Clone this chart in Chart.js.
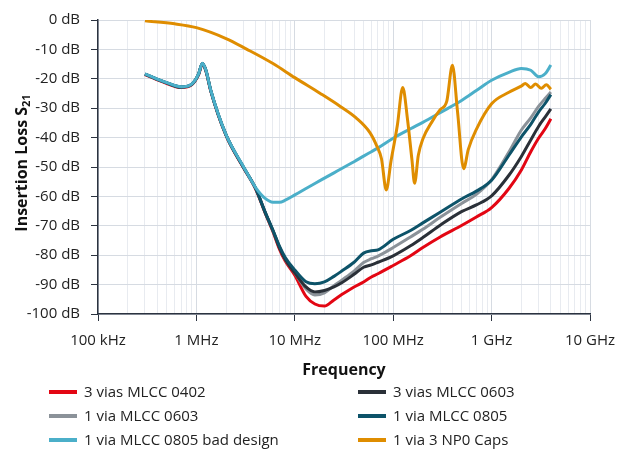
<!DOCTYPE html>
<html>
<head>
<meta charset="utf-8">
<script src="https://cdn.jsdelivr.net/npm/chart.js@4.4.1/dist/chart.umd.min.js"></script>
<style>
html, body { margin: 0; padding: 0; background: #fff; }
canvas { display: block; }
</style>
</head>
<body>
<canvas id="chart" width="629" height="452"></canvas>
<script>
// frequencies (Hz) shared by the MLCC measurements
const freqMlcc = [3e5, 5e5, 7e5, 9e5, 1.05e6, 1.15e6, 1.25e6, 1.4e6, 2e6, 3e6, 4e6, 5e6, 6e6, 7e6, 8e6,
    1e7, 1.3e7, 1.6e7, 2e7, 2.5e7, 3e7, 4e7, 5e7, 6e7, 7e7, 1e8, 1.5e8, 2e8, 3e8, 5e8, 7e8,
    1e9, 1.5e9, 2e9, 2.5e9, 3e9, 3.5e9, 4e9];

const red0402 = [-18.6, -21.6, -23.0, -22.0, -18.7, -15.0, -17.4, -24.2, -39.3, -50.2, -57.5, -65.6, -72.0, -78.0, -82.0,
    -86.8, -94.0, -96.6, -97.3, -95.2, -93.4, -90.8, -89.1, -87.4, -86.3, -83.5, -80.2, -77.4, -73.8, -69.8, -67.0,
    -63.8, -57.3, -51.1, -44.8, -40.2, -37.0, -33.6];
const dark0603 = [-18.4, -21.4, -22.8, -21.8, -18.5, -14.8, -17.2, -24.0, -39.1, -50.0, -57.3, -65.5, -71.7, -77.5, -81.5,
    -86.0, -90.8, -92.5, -92.0, -90.8, -89.4, -86.5, -84.1, -83.3, -82.4, -80.2, -76.8, -74.0, -69.8, -65.1, -62.9,
    -59.8, -52.8, -46.5, -40.8, -36.2, -33.0, -30.2];
const gray0603 = [-18.4, -21.4, -22.8, -21.8, -18.5, -14.8, -17.2, -24.0, -39.1, -50.0, -57.3, -65.5, -71.7, -77.2, -81.5,
    -86.0, -91.5, -93.5, -92.8, -90.4, -88.5, -85.4, -82.5, -81.2, -80.3, -77.4, -73.8, -71.2, -67.1, -62.3, -59.3,
    -54.3, -44.9, -37.5, -33.3, -29.4, -26.7, -24.5];
const teal0805 = [-18.4, -21.4, -22.8, -21.8, -18.5, -14.8, -17.2, -24.0, -39.1, -50.0, -57.3, -65.3, -71.5, -77.0, -80.8,
    -85.0, -89.0, -89.7, -89.1, -87.2, -85.4, -82.4, -79.3, -78.5, -78.2, -74.6, -71.6, -69.0, -65.4, -60.8, -58.2,
    -54.5, -46.0, -39.8, -35.5, -31.3, -28.4, -25.4];
const blueBad = [-18.3, -21.3, -22.7, -21.7, -18.4, -14.7, -17.1, -23.9, -39.0, -49.8, -57.0, -60.7, -62.0, -62.0, -61.3,
    -59.5, -57.3, -55.6, -53.8, -52.0, -50.5, -48.2, -46.3, -44.8, -43.5, -40.2, -37.0, -34.8, -31.5, -27.3, -24.0,
    -20.5, -17.8, -16.5, -17.1, -19.3, -18.3, -15.3];

// frequencies (Hz) for the NP0 measurement
const freqNp0 = [3e5, 6e5, 1e6, 2e6, 3.2e6, 6e6, 1e7, 1.8e7, 2.9e7, 4.2e7, 5.8e7, 6.8e7, 7.6e7, 8.5e7,
    9.5e7, 1.1e8, 1.25e8, 1.4e8, 1.55e8, 1.65e8, 1.8e8, 2e8, 2.5e8, 3e8, 3.5e8, 4e8, 4.5e8, 5.2e8, 5.8e8, 7e8,
    1e9, 1.5e9, 2e9, 2.2e9, 2.5e9, 2.8e9, 3.2e9, 3.6e9, 4e9];
const orangeNp0 = [-0.3, -1.3, -2.6, -6.3, -9.8, -14.8, -19.6, -24.9, -29.4, -33.3, -38.3, -42.8, -47.2, -57.8,
    -48.0, -36.0, -23.0, -34.0, -47.5, -55.5, -46.0, -40.5, -34.4, -30.5, -27.7, -15.4, -31.0, -50.6, -44.0, -37.2,
    -28.5, -24.6, -22.5, -21.6, -23.0, -21.8, -23.2, -22.0, -23.6];

const seriesLabels = ['3 vias MLCC 0402', '3 vias MLCC 0603', '1 via MLCC 0603', '1 via MLCC 0805',
    '1 via MLCC 0805 bad design', '1 via 3 NP0 Caps'];

const xTickValues = [1e5, 1e6, 1e7, 1e8, 1e9, 1e10];
const xTickLabels = ['100 kHz', '1 MHz', '10 MHz', '100 MHz', '1 GHz', '10 GHz'];

const colors = {
    red: '#e30613',
    dark: '#2a3038',
    gray: '#8b9299',
    teal: '#0d5369',
    blue: '#4bafc9',
    orange: '#df8d00',
    text: '#222222',
    axis: '#2b3340',
    gridMajor: '#d6dbe2',
    gridMinor: '#e8ebf0'
};

const toPoints = (xs, ys) => xs.map((x, i) => ({ x: x, y: ys[i] }));

const lineStyle = {
    borderWidth: 3,
    pointRadius: 0,
    fill: false,
    cubicInterpolationMode: 'monotone'
};

Chart.defaults.font.family = "'Open Sans', sans-serif";
Chart.defaults.font.size = 15;
Chart.defaults.color = colors.text;

// two-column legend under the axis title
const legendPlugin = {
    id: 'twoColLegend',
    afterDraw(chart) {
        const ctx = chart.ctx;
        ctx.save();
        ctx.font = "15px 'Open Sans', sans-serif";
        ctx.textBaseline = 'middle';
        ctx.textAlign = 'left';
        chart.data.datasets.forEach((ds, i) => {
            const x = i % 2 === 0 ? 49 : 358;
            const y = 392 + Math.floor(i / 2) * 24;
            ctx.strokeStyle = ds.borderColor;
            ctx.lineWidth = 4;
            ctx.beginPath();
            ctx.moveTo(x, y);
            ctx.lineTo(x + 28, y);
            ctx.stroke();
            ctx.fillStyle = colors.text;
            ctx.fillText(ds.label, x + 35, y + 1);
        });
        ctx.restore();
    }
};

// rotated y title with a real subscript
const yTitlePlugin = {
    id: 'yTitle',
    afterDraw(chart) {
        const ctx = chart.ctx;
        ctx.save();
        ctx.translate(22, 163);
        ctx.rotate(-Math.PI / 2);
        ctx.fillStyle = '#111';
        ctx.textBaseline = 'middle';
        ctx.textAlign = 'left';
        const main = 'Insertion Loss S';
        const sub = '21';
        ctx.font = "bold 16px 'Open Sans', sans-serif";
        const w1 = ctx.measureText(main).width;
        ctx.font = "bold 11px 'Open Sans', sans-serif";
        const w2 = ctx.measureText(sub).width;
        const start = -(w1 + w2) / 2;
        ctx.font = "bold 16px 'Open Sans', sans-serif";
        ctx.fillText(main, start, 0);
        ctx.font = "bold 11px 'Open Sans', sans-serif";
        ctx.fillText(sub, start + w1, 5);
        ctx.restore();
    }
};

new Chart(document.getElementById('chart'), {
    type: 'line',
    data: {
        datasets: [
            { ...lineStyle, label: seriesLabels[0], data: toPoints(freqMlcc, red0402), borderColor: colors.red, order: 5 },
            { ...lineStyle, label: seriesLabels[1], data: toPoints(freqMlcc, dark0603), borderColor: colors.dark, order: 3 },
            { ...lineStyle, label: seriesLabels[2], data: toPoints(freqMlcc, gray0603), borderColor: colors.gray, order: 4 },
            { ...lineStyle, label: seriesLabels[3], data: toPoints(freqMlcc, teal0805), borderColor: colors.teal, order: 2 },
            { ...lineStyle, label: seriesLabels[4], data: toPoints(freqMlcc, blueBad), borderColor: colors.blue, order: 1 },
            { ...lineStyle, label: seriesLabels[5], data: toPoints(freqNp0, orangeNp0), borderColor: colors.orange, order: 0 }
        ]
    },
    options: {
        responsive: false,
        animation: false,
        devicePixelRatio: 1,
        layout: { padding: { top: 16, right: 39, bottom: 70, left: 0 } },
        plugins: {
            legend: { display: false },
            tooltip: { enabled: false }
        },
        scales: {
            x: {
                type: 'logarithmic',
                min: 1e5,
                max: 1e10,
                afterBuildTicks(scale) {
                    const ticks = [];
                    for (let d = 0; d < xTickValues.length - 1; d++) {
                        for (let m = 1; m < 10; m++) {
                            ticks.push({ value: xTickValues[d] * m, major: m === 1 });
                        }
                    }
                    ticks.push({ value: xTickValues[xTickValues.length - 1], major: true });
                    scale.ticks = ticks;
                },
                afterFit(scale) { scale.height = 68; },
                ticks: {
                    autoSkip: false,
                    maxRotation: 0,
                    padding: 11,
                    color: colors.text,
                    callback: (value) => {
                        const idx = xTickValues.indexOf(value);
                        return idx >= 0 ? xTickLabels[idx] : '';
                    }
                },
                grid: {
                    color: (c) => (c.tick && c.tick.major ? colors.gridMajor : colors.gridMinor),
                    tickColor: (c) => (c.tick && c.tick.major ? colors.axis : 'rgba(0,0,0,0)'),
                    tickLength: 7,
                    lineWidth: 1
                },
                border: { color: colors.axis, width: 1.5 },
                title: {
                    display: true,
                    text: 'Frequency',
                    color: '#111',
                    font: { size: 16, weight: 'bold' },
                    padding: { top: 11.6, bottom: 2.4 }
                }
            },
            y: {
                min: -100,
                max: 0,
                afterFit(scale) { scale.width = 98; },
                ticks: {
                    stepSize: 10,
                    padding: 11,
                    color: colors.text,
                    callback: (v) => v + ' dB'
                },
                grid: {
                    color: colors.gridMajor,
                    tickColor: colors.axis,
                    tickLength: 7
                },
                border: { color: colors.axis, width: 1.5 }
            }
        }
    },
    plugins: [legendPlugin, yTitlePlugin]
});
</script>
</body>
</html>
